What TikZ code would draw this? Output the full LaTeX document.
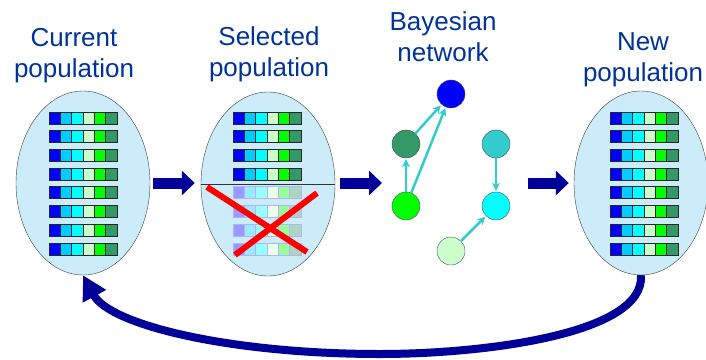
\documentclass[tikz,border=0pt]{standalone}
\usepackage{fontspec}
\setmainfont{Liberation Sans}
\usetikzlibrary{shapes.geometric,arrows.meta,positioning}

\definecolor{popfill}{RGB}{204,236,250}
\definecolor{labelblue}{RGB}{0,51,153}
\definecolor{navyarrow}{RGB}{0,0,153}
\definecolor{geneA}{RGB}{0,0,255}
\definecolor{geneB}{RGB}{0,204,255}
\definecolor{geneC}{RGB}{0,255,255}
\definecolor{geneD}{RGB}{204,255,204}
\definecolor{geneE}{RGB}{0,255,0}
\definecolor{geneF}{RGB}{51,153,102}
\definecolor{linkcol}{RGB}{51,204,204}

\def\cellw{11.33}
\def\cellh{12}
\def\rowsep{18.7}

% one individual: six genes, from its top left corner; #3 = tint, #4 = extra style
\newcommand{\individual}[4]{%
  \foreach \c [count=\i from 0] in {geneA,geneB,geneC,geneD,geneE,geneF}
    \draw[gene,fill=\c!#3!white,#4] ({#1+\i*\cellw},#2) rectangle ++(\cellw,\cellh);
}

\begin{document}
\begin{tikzpicture}[x=1pt,y=-1pt]
    \tikzstyle{population}=[ellipse,draw=black!75,fill=popfill,minimum width=134pt,minimum height=184pt,inner sep=0pt]
    \tikzstyle{gene}=[draw=black!85,line width=0.7pt]
    \tikzstyle{faded gene}=[draw=blue!30]
    \tikzstyle{caption}=[text=labelblue,font=\fontsize{26}{31}\selectfont,align=center,anchor=base,inner sep=0pt]
    \tikzstyle{flow arrow}=[navyarrow,line width=11pt,-{Triangle[length=13pt,width=24pt]}]
    \tikzstyle{back arrow}=[navyarrow,line width=8pt,-{Triangle[length=24pt,width=25pt]}]
    \tikzstyle{var}=[circle,draw=black!70,minimum size=28pt,inner sep=0pt]
    \tikzstyle{link}=[linkcol,line width=2.5pt,-{Stealth[length=8pt,width=8pt]},shorten >=1pt]

    \useasboundingbox (0,0) rectangle (706,359);

    % Draw the three populations
    \node[population] (cur) at (83,183) {};
    \node[population] (sel) at (268,184) {};
    \node[population] (new) at (641,183) {};

    % Captions (placed at the baseline of their last line)
    \node[caption] (cur-lab) at (74,77) {Current\\population};
    \node[caption] (sel-lab) at (269,76) {Selected\\population};
    \node[caption] (bn-lab) at (443,61) {Bayesian\\network};
    \node[caption] (new-lab) at (643,81) {New\\population};

    % Individuals of the current and the new population
    \foreach \r in {0,...,7} {
        \individual{49}{112+\r*\rowsep}{100}{}
        \individual{610}{112+\r*\rowsep}{100}{}
    }

    % Selected ones are kept, the others are thrown away
    \foreach \r in {0,...,3}
        \individual{233}{112+\r*\rowsep}{100}{}
    \foreach \r in {4,...,7}
        \individual{233}{112+\r*\rowsep}{40}{faded gene}
    \draw[black!80] (sel.west) -- (sel.east);
    \draw[red,line width=6pt] (207,187) -- (307,252);
    \draw[red,line width=6pt] (317,193) -- (235,255);

    % Draw the Bayesian network
    \node[var,fill=geneA] (bn-a) at (451,94) {};
    \node[var,fill=geneF] (bn-f) at (406,144) {};
    \node[var,fill=linkcol] (bn-t) at (496,144) {};
    \node[var,fill=geneE] (bn-e) at (406,206) {};
    \node[var,fill=geneC] (bn-c) at (496,206) {};
    \node[var,fill=geneD] (bn-d) at (451,251) {};

    \draw[link] (bn-e) -- (bn-f);
    \draw[link] (bn-f) -- (bn-a);
    \draw[link] (bn-e) -- (bn-a);
    \draw[link] (bn-t) -- (bn-c);
    \draw[link] (bn-d) -- (bn-c);

    % Steps of the loop
    \coordinate (bn-in) at (382,183);
    \coordinate (bn-out) at (528,183);
    \draw[flow arrow,shorten <=3pt,shorten >=6pt] (cur.east) -- (cur.east -| sel.west);
    \draw[flow arrow,shorten <=5pt] (sel.east |- bn-in) -- (bn-in);
    \draw[flow arrow,shorten >=5pt] (bn-out) -- (new.west);

    % Back to the start
    \draw[back arrow] (new.south) .. controls (645,335) and (480,354) .. (380,354)
        .. controls (230,354) and (110,325) .. (cur.south);
\end{tikzpicture}
\end{document}
